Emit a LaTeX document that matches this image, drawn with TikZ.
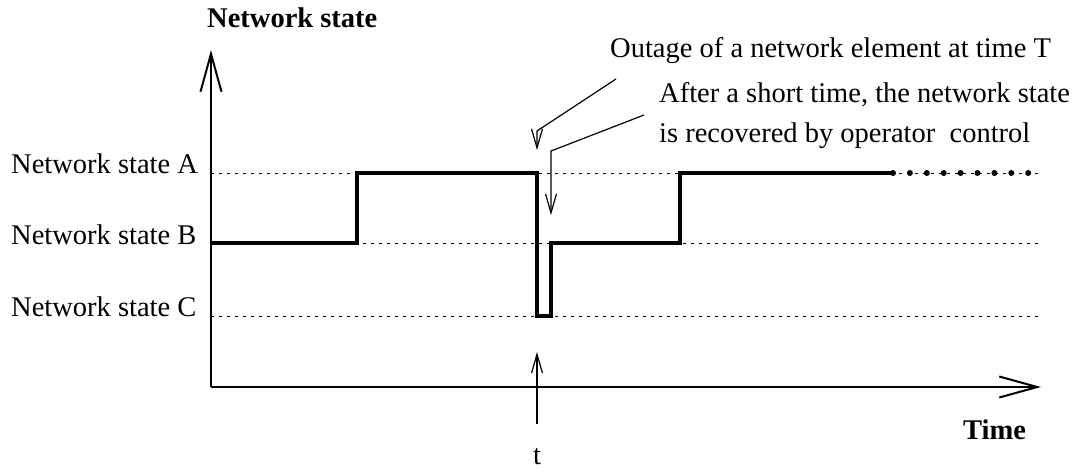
\documentclass[tikz,border=0pt]{standalone}
\usepackage{fontspec}
\setmainfont{Liberation Serif}
\usetikzlibrary{arrows.meta}
\begin{document}
\begin{tikzpicture}[x=1pt,y=-1pt,
  txt/.style={inner sep=0pt, font=\fontsize{28.5}{34}\selectfont},
  btxt/.style={inner sep=0pt, font=\fontsize{28.5}{34}\selectfont\bfseries},
  axisline/.style={line width=2pt, -{Straight Barb[length=38pt,width=21pt,line width=2pt]}},
  guide/.style={line width=0.8pt, dash pattern=on 3pt off 5pt},
  signal/.style={line width=4.5pt, line join=miter, line cap=butt},
  ext/.style={line width=6pt, line cap=round, dash pattern=on 0pt off 16.9pt},
  annot/.style={line width=1.2pt, -{Straight Barb[length=19pt,width=11pt,line width=1.2pt]}}
]
\useasboundingbox (0,0) rectangle (1076,469);

% coordinates
\coordinate (O) at (211,387);
\coordinate (ytip) at (211,50);
\coordinate (xtip) at (1041,387);
\coordinate (gA0) at (211,173); \coordinate (gA1) at (1040,173);
\coordinate (gB0) at (211,243); \coordinate (gB1) at (1040,243);
\coordinate (gC0) at (211,316); \coordinate (gC1) at (1040,316);
\coordinate (s0) at (211,243);
\coordinate (s1) at (357,243);
\coordinate (s2) at (357,173);
\coordinate (s3) at (537,173);
\coordinate (s4) at (537,316);
\coordinate (s5) at (551,316);
\coordinate (s6) at (551,243);
\coordinate (s7) at (680,243);
\coordinate (s8) at (680,173);
\coordinate (s9) at (893,173);
\coordinate (e1) at (1040,173);
\coordinate (a1s) at (616,79);
\coordinate (a1b) at (537,131);
\coordinate (a1t) at (537,150);
\coordinate (a2s) at (644,115);
\coordinate (a2b) at (551,151);
\coordinate (a2t) at (551,215);
\coordinate (t0) at (537,424);
\coordinate (t1) at (537,352);

% guides
\draw[guide] (gA0) -- (gA1);
\draw[guide] (gB0) -- (gB1);
\draw[guide] (gC0) -- (gC1);

% axes
\draw[axisline] (O) -- (ytip);
\draw[axisline] (O) -- (xtip);

% signal
\draw[signal] (s0) -- (s1) -- (s2) -- (s3) -- (s4) -- (s5) -- (s6) -- (s7) -- (s8) -- (s9);
\draw[ext] (s9) -- (e1);

% annotation arrows
\draw[annot] (a1s) -- (a1b) -- (a1t);
\draw[annot] (a2s) -- (a2b) -- (a2t);
\draw[annot] (t0) -- (t1);

% labels
\node[btxt, anchor=base west] (ylab) at (207,27) {Network state};
\node[btxt, anchor=base west] (xlab) at (963,439) {Time};
\node[txt, anchor=base west] (lA) at (11,173) {Network state A};
\node[txt, anchor=base west] (lB) at (11,244) {Network state B};
\node[txt, anchor=base west] (lC) at (11,316) {Network state C};
\node[txt, anchor=base west] (out) at (610,57) {Outage of a network element at time T};
\node[txt, anchor=base west] (rec1) at (659,102) {After a short time, the network state};
\node[txt, anchor=base west] (rec2) at (659,142) {is recovered by operator\ \ control};
\node[txt, anchor=base] (tlab) at (537,464) {t};
\end{tikzpicture}
\end{document}
